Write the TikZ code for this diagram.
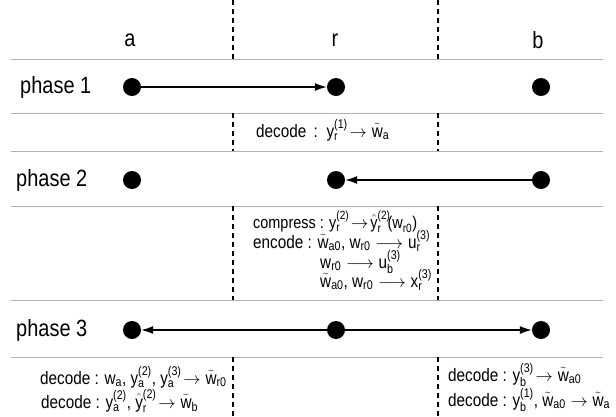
\documentclass[tikz,border=0pt]{standalone}
\usepackage{amsmath}
\usepackage{fontspec}
\setmainfont[FakeStretch=0.85]{Liberation Sans}
\usetikzlibrary{arrows.meta,positioning}
\tikzstyle{party} = [circle, fill=black, inner sep=0pt, minimum size=18pt]
\tikzstyle{line} = [draw, line width=1.3pt, -{Latex[length=12pt,width=8pt]}]
\tikzstyle{sep} = [draw=gray!60, line width=1pt]
\tikzstyle{cut} = [draw, line width=1.5pt, dash pattern=on 5pt off 4pt]
\tikzstyle{big} = [font=\fontsize{23.5}{28}\selectfont]
\tikzstyle{ops} = [font=\fontsize{18}{20}\selectfont, anchor=base west, inner sep=0pt]
\newcommand\mt[1]{\text{#1}}

\begin{document}
\begin{tikzpicture}[x=1pt,y=-1pt]
    \useasboundingbox (0,0) rectangle (616,416);
    % Grid
    \foreach \y in {59,113,151,206,300,357}
        \path [sep] (11,\y) -- (603,\y);
    \foreach \x in {233,438} {
        \foreach \ya/\yb in {0/59,113/151,206/300,357/416}
            \path [cut] (\x,\ya) -- (\x,\yb);
    }
    % Place nodes
    \node[big] (ha) at (130,40) {a};
    \node[big] (hr) at (335,40) {r};
    \node[big] (hb) at (538,40) {b};
    \node[big,anchor=west,inner sep=0pt] (p1) at (20,87) {phase 1};
    \node[big,anchor=west,inner sep=0pt] (p2) at (16,180) {phase 2};
    \node[big,anchor=west,inner sep=0pt] (p3) at (16,330) {phase 3};
    \node[party] (a1) at (132,87) {};
    \node[party] (r1) at (336,87) {};
    \node[party] (b1) at (541,87) {};
    \node[party] (a2) at (132,180) {};
    \node[party] (r2) at (336,180) {};
    \node[party] (b2) at (541,180) {};
    \node[party] (a3) at (132,330) {};
    \node[party] (r3) at (336,330) {};
    \node[party] (b3) at (541,330) {};
    % Draw edges
    \path [line] (a1) -- (r1);
    \path [line] (b2) -- (r2);
    \path [line] (r3) -- (a3);
    \path [line] (r3) -- (b3);
    % Operations
    \node[ops] (d1) at (256,137) {decode \,:\, $\mt{y}_{\mt{r}}^{\mt{(1)}}\!\rightarrow \tilde{\mt{w}}_{\mt{a}}$};
    \node[ops,font=\fontsize{17}{20}\selectfont] (c2) at (253,228) {compress : $\mt{y}_{\mt{r}}^{\mt{(2)}}\!\rightarrow\! \hat{\mt{y}}_{\mt{r}}^{\mt{(2)}}\!\mt{(w}_{\mt{r0}}\mt{)}$};
    \node[ops] (e2) at (253,248) {encode : $\tilde{\mt{w}}_{\mt{a0}}\mt{, w}_{\mt{r0}}\longrightarrow \mt{u}_{\mt{r}}^{\mt{(3)}}$};
    \node[ops] (e3) at (320,268) {$\mt{w}_{\mt{r0}}\longrightarrow \mt{u}_{\mt{b}}^{\mt{(3)}}$};
    \node[ops] (e4) at (320,287) {$\tilde{\mt{w}}_{\mt{a0}}\mt{, w}_{\mt{r0}}\longrightarrow \mt{x}_{\mt{r}}^{\mt{(3)}}$};
    \node[ops] (da1) at (40,384) {decode : $\mt{w}_{\mt{a}}\mt{, y}_{\mt{a}}^{\mt{(2)}}\mt{, y}_{\mt{a}}^{\mt{(3)}}\!\rightarrow \tilde{\mt{w}}_{\mt{r0}}$};
    \node[ops] (da2) at (41,408) {decode : $\mt{y}_{\mt{a}}^{\mt{(2)}}\mt{, }\hat{\mt{y}}_{\mt{r}}^{\mt{(2)}}\!\rightarrow \tilde{\mt{w}}_{\mt{b}}$};
    \node[ops] (db1) at (448,381) {decode : $\mt{y}_{\mt{b}}^{\mt{(3)}}\!\rightarrow \tilde{\mt{w}}_{\mt{a0}}$};
    \node[ops] (db2) at (448,406) {decode : $\mt{y}_{\mt{b}}^{\mt{(1)}}\mt{, }\tilde{\mt{w}}_{\mt{a0}}\rightarrow \tilde{\mt{w}}_{\mt{a}}$};
\end{tikzpicture}
\end{document}
